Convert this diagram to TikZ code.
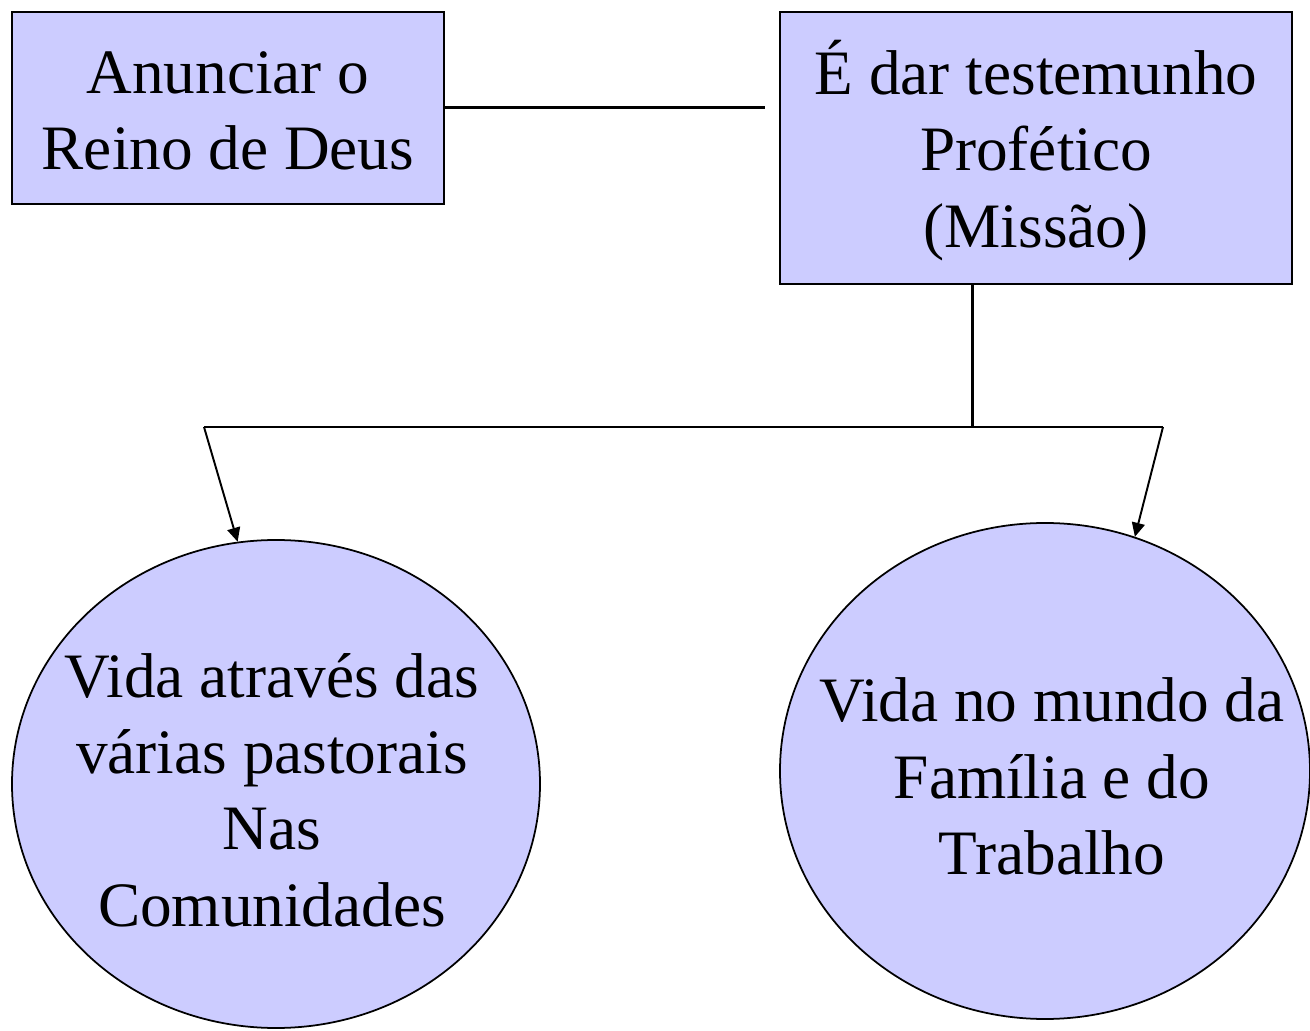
\documentclass[tikz,border=0pt]{standalone}
\usepackage{fontspec}
\setmainfont{Liberation Serif}
\usetikzlibrary{shapes.geometric,arrows.meta}
\definecolor{lila}{RGB}{204,204,255}
\begin{document}
\begin{tikzpicture}[
		caixa/.style={draw, fill=lila, line width=1pt, inner sep=0pt},
		bola/.style={draw, fill=lila, ellipse, line width=1pt, inner sep=0pt},
		texto/.style={align=center, font=\fontsize{36}{43.4}\selectfont},
		linha/.style={line width=1.7pt},
		seta/.style={line width=1.1pt, -{Triangle[length=0.28cm,width=0.26cm]}}]
					\useasboundingbox (0,0) rectangle (26.2,20.6);
					\node[caixa, minimum width=8.64cm, minimum height=3.84cm] (B1) at (4.56,18.44) {};
					\node[texto] (T1) at (4.56,18.38) {Anunciar o\\Reino de Deus};
					\node[caixa, minimum width=10.24cm, minimum height=5.44cm] (B2) at (20.72,17.64) {};
					\node[texto] (T2) at (20.72,17.59) {É dar testemunho\\Profético\\(Missão)};
					\node[bola, minimum width=10.56cm, minimum height=9.76cm] (C1) at (5.52,4.92) {};
					\node[texto] (T3) at (5.44,4.8) {Vida através das\\várias pastorais\\Nas\\Comunidades};
					\node[bola, minimum width=10.6cm, minimum height=9.92cm] (C2) at (20.9,5.18) {};
					\node[texto] (T4) at (21.04,5.07) {Vida no mundo da\\Família e do\\Trabalho};
					\coordinate (M) at (15.3,18.44);
					\coordinate (J) at (19.44,12.06);
					\coordinate (L) at (4.08,12.06);
					\coordinate (R) at (23.26,12.06);
					\draw[linha] (B1.east) -- (M);
					\draw[linha] (J |- B2.south) -- (J);
					\draw[linha] (L) -- (R);
					\draw[seta] (L) -- (C1.99);
					\draw[seta] (R) -- (C2.69);
				\end{tikzpicture}
\end{document}
